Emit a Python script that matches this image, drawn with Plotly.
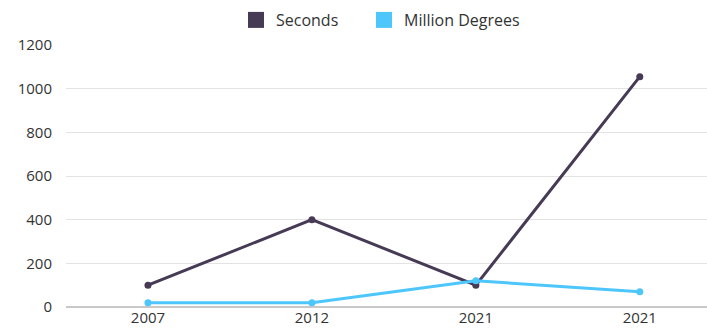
import plotly.graph_objects as go

years = ["2007", "2012", "2021", "2021"]
seconds = [100, 400, 100, 1055]
million_degrees = [20, 20, 120, 70]
y_ticks = [0, 200, 400, 600, 800, 1000, 1200]

c_sec = "#463a54"
c_deg = "#4cc6fb"
idx = list(range(len(years)))

fig = go.Figure()
fig.add_trace(go.Scatter(x=idx, y=seconds, mode="lines+markers", name="Seconds",
                         line=dict(color=c_sec, width=3), marker=dict(size=7, color=c_sec),
                         showlegend=False))
fig.add_trace(go.Scatter(x=idx, y=million_degrees, mode="lines+markers", name="Million Degrees",
                         line=dict(color=c_deg, width=3), marker=dict(size=7, color=c_deg),
                         showlegend=False))
fig.add_trace(go.Scatter(x=[None], y=[None], mode="markers", name="Seconds",
                         marker=dict(symbol="square", size=20, color=c_sec), legend="legend"))
fig.add_trace(go.Scatter(x=[None], y=[None], mode="markers", name="Million Degrees",
                         marker=dict(symbol="square", size=20, color=c_deg), legend="legend2"))

plot_w = 707 - 66
plot_h = 329 - 10 - 22
leg_y = 1 - 10 / plot_h
leg_common = dict(orientation="h", xanchor="left", y=leg_y, yanchor="middle",
                  font=dict(size=16, color="#333333"), itemwidth=30, bgcolor="rgba(0,0,0,0)")
fig.update_layout(
    width=707, height=329,
    margin=dict(l=66, r=0, t=10, b=22, autoexpand=False),
    paper_bgcolor="white", plot_bgcolor="white",
    font=dict(family="Open Sans, sans-serif", size=15, color="#333333"),
    legend=dict(x=(236 - 66) / plot_w, **leg_common),
    legend2=dict(x=(364 - 66) / plot_w, **leg_common),
    xaxis=dict(tickmode="array", tickvals=idx, ticktext=years, range=[-0.5, 3.41],
               showgrid=False, zeroline=False, showline=False, ticks="",
               tickfont=dict(size=15), automargin=False),
    yaxis=dict(range=[0, 1200], tickvals=y_ticks, gridcolor="#e3e3e3", gridwidth=1,
               domain=[0, (plot_h - 35) / plot_h], automargin=False,
               zeroline=True, zerolinecolor="#c8c8c8", zerolinewidth=1.5,
               ticks="outside", ticklen=10, tickcolor="rgba(0,0,0,0)", tickfont=dict(size=15)),
)
fig.write_html("out.html")
